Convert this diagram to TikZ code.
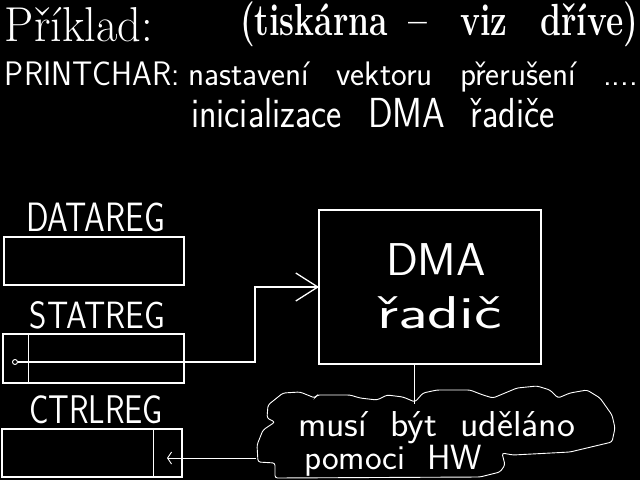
\documentclass[tikz,border=0pt]{standalone}
\usepackage{fontspec}
\usepackage{graphicx}
\usetikzlibrary{arrows.meta}
\newcommand\hfit[2]{\resizebox{#1}{\height}{#2}}
\begin{document}
\begin{tikzpicture}[x=1pt,y=-1pt,
  txt/.style={anchor=base west,inner sep=0pt,outer sep=0pt,text=white},
  regbox/.style={draw=white,line width=1.3pt,anchor=north west,inner sep=0pt,outer sep=0pt},
  wire/.style={draw=white,line width=1.3pt},
  thin/.style={draw=white,line width=0.9pt}]
\fill[black] (0,0) rectangle (640,480);
\useasboundingbox (0,0) rectangle (640,480);
% headings
\node[txt,font=\fontsize{49}{49}\selectfont] (t1) at (5,41) {\hfit{148pt}{Příklad:}};
\node[txt,font=\fontsize{45}{45}\selectfont\bfseries] (t2) at (240,35) {\hfit{398pt}{(tiskárna\hspace{0.25em} –\hspace{0.6em} viz\hspace{0.6em} dříve)}};
\node[txt,font=\sffamily\fontsize{34}{34}\selectfont] (pc) at (5,85) {\hfit{175pt}{PRINTCHAR:}};
\node[txt,font=\sffamily\fontsize{34}{34}\selectfont] (l2) at (188,85) {\hfit{450pt}{nastavení\hspace{0.5em} vektoru\hspace{0.5em} přerušení\hspace{0.5em} ....}};
\node[txt,font=\sffamily\fontsize{42}{42}\selectfont] (l3) at (191,127) {\hfit{364pt}{inicializace\hspace{0.4em} DMA\hspace{0.4em} řadiče}};
% registers
\node[txt,font=\sffamily\fontsize{41}{41}\selectfont] (dl) at (26,231) {\hfit{139pt}{DATAREG}};
\node[regbox,minimum width=180pt,minimum height=48pt] (data) at (4,237) {};
\node[txt,font=\sffamily\fontsize{38}{38}\selectfont] (sl) at (30,328) {\hfit{135pt}{STATREG}};
\node[regbox,minimum width=181pt,minimum height=49pt] (stat) at (3,334) {};
\draw[thin] ([xshift=25pt]stat.north west) -- ([xshift=25pt]stat.south west);
\node[txt,font=\sffamily\fontsize{40}{40}\selectfont] (cl) at (29,423) {\hfit{134pt}{CTRLREG}};
\node[regbox,minimum width=180pt,minimum height=48pt] (ctrl) at (2,429) {};
\draw[thin] ([xshift=151pt]ctrl.north west) -- ([xshift=151pt]ctrl.south west);
% DMA controller
\node[regbox,minimum width=222pt,minimum height=154pt] (dma) at (319,210) {};
\node[txt,font=\sffamily\fontsize{46}{46}\selectfont] (dmat) at (386,275) {\hfit{100pt}{DMA}};
\node[txt,font=\sffamily\fontsize{46}{46}\selectfont] (radic) at (377,328) {\hfit{125pt}{řadič}};
% cloud
\draw[thin,rounded corners=2.5pt] (257,445) -- (263,430) -- (275,422) -- (267,418) -- (268,405) -- (283,393) -- (300,392) -- (315,398) -- (317,395) -- (350,395) -- (360,398) -- (377,400) -- (387,395) -- (403,397) -- (415,402) -- (423,393) -- (437,390) -- (470,390) -- (483,395) -- (493,398) -- (517,388) -- (537,386) -- (550,390) -- (558,398) -- (570,393) -- (587,390) -- (600,398) -- (612,415) -- (615,428) -- (612,442) -- (570,452) -- (513,455) -- (502,453) -- (505,465) -- (500,472) -- (480,477) -- (275,478) -- (275,463) -- (258,462) -- cycle;
\node[txt,font=\sffamily\fontsize{36}{36}\selectfont] (m1) at (298,436) {\hfit{277pt}{musí\hspace{0.3em} být\hspace{0.3em} uděláno}};
\node[txt,font=\sffamily\fontsize{35}{35}\selectfont] (m2) at (304,469) {\hfit{178pt}{pomoci\hspace{0.3em} HW}};
% connectors
\node[circle,draw=white,line width=0.9pt,inner sep=0pt,minimum size=5pt] (sc) at (15,362) {};
\coordinate (bend) at (255,362);
\draw[wire,-{Straight Barb[length=22pt,width=28pt,line width=1.3pt]}] (sc) -- (bend) |- (dma.west);
\coordinate (dmabot) at (414,364);
\coordinate (cloudtop) at (414,404);
\draw[thin] (dmabot) -- (cloudtop);
\coordinate (cloudleft) at (256,458);
\coordinate (ctrlin) at (167,458);
\draw[thin,-{Straight Barb[length=4pt,width=12pt]}] (cloudleft) -- (ctrlin);
\end{tikzpicture}
\end{document}
